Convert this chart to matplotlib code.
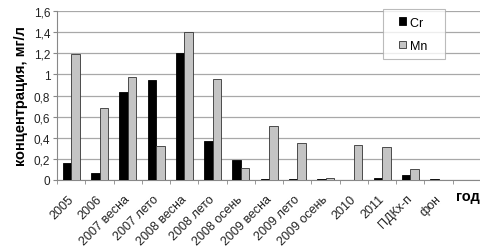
import matplotlib
matplotlib.use("Agg")
import matplotlib.pyplot as plt
import matplotlib.transforms as mtransforms
from matplotlib.patches import Rectangle
from matplotlib.legend_handler import HandlerPatch
import numpy as np

categories = ["2005", "2006", "2007 весна", "2007 лето", "2008 весна", "2008 лето",
              "2008 осень", "2009 весна", "2009 лето", "2009 осень", "2010", "2011",
              "ПДКх-п", "фон"]
cr = [0.16, 0.07, 0.83, 0.95, 1.20, 0.37, 0.19, 0.005, 0.01, 0.01, 0.0, 0.015, 0.05, 0.01]
mn = [1.19, 0.68, 0.98, 0.32, 1.40, 0.96, 0.11, 0.51, 0.35, 0.015, 0.33, 0.31, 0.10, 0.0]
yticks = [0, 0.2, 0.4, 0.6, 0.8, 1.0, 1.2, 1.4, 1.6]
ytick_labels = ["0", "0,2", "0,4", "0,6", "0,8", "1", "1,2", "1,4", "1,6"]

plt.rcParams['font.family'] = ['Liberation Sans', 'DejaVu Sans']

fig = plt.figure(figsize=(4.81, 2.51), dpi=100)
ax = fig.add_axes([0.119, 0.279, 0.881, 0.673])

cr_color, mn_color = "black", "#c4c4c4"
x = np.arange(len(categories))
w = 0.3
ax.bar(x - w/2, cr, w, color=cr_color, edgecolor="black", linewidth=0.6, zorder=3)
ax.bar(x + w/2, mn, w, color=mn_color, edgecolor="#333333", linewidth=0.6, zorder=3)

ax.set_xlim(-0.5, len(categories) + 0.5)
ax.set_ylim(0, 1.6)
ax.set_yticks(yticks)
ax.set_yticklabels(ytick_labels, fontsize=8.5, color="#222222")
ax.yaxis.grid(True, color="#a8a8a8", linewidth=0.9, zorder=0)
ax.set_axisbelow(True)

# category labels (rotated), placed at the category centres
ax.set_xticks(x)
ax.set_xticklabels([])
ax.tick_params(axis="x", which="major", length=0)
off = mtransforms.ScaledTranslation(-0.04, -0.125, fig.dpi_scale_trans)
for xi, cat in zip(x, categories):
    ax.text(xi, 0, cat, transform=ax.get_xaxis_transform() + off,
            rotation=45, rotation_mode="anchor", ha="right", va="top",
            fontsize=9, color="#222222")
ax.set_xticks(np.arange(-0.5, len(categories), 1.0), minor=True)
ax.tick_params(axis="x", which="minor", length=3, color="#888888")
ax.tick_params(axis="y", length=3, color="#888888", pad=2)

for s in ["top", "right"]:
    ax.spines[s].set_visible(False)
ax.spines["left"].set_color("#888888")
ax.spines["bottom"].set_color("#888888")

ax.set_ylabel("концентрация, мг/л", fontsize=10.5, fontweight="bold", labelpad=4)
fig.text(0.998, 0.215, "год", fontsize=10.5, fontweight="bold", ha="right", va="center")


def make_sq(legend, orig_handle, xdescent, ydescent, width, height, fontsize):
    s = 0.6 * fontsize
    return Rectangle((width - s - xdescent, (height - s) / 2 - ydescent), s, s)


handles = [Rectangle((0, 0), 1, 1, facecolor=cr_color, edgecolor="black", linewidth=0.6),
           Rectangle((0, 0), 1, 1, facecolor=mn_color, edgecolor="#333333", linewidth=0.6)]
leg = ax.legend(handles, ["Cr   ", "Mn   "], loc="upper left",
                bbox_to_anchor=(0.769, 1.012), fontsize=9,
                frameon=True, fancybox=False, edgecolor="#aaaaaa",
                handlelength=1.25, handleheight=0.7, labelspacing=0.9,
                borderpad=0.6, handletextpad=0.3, borderaxespad=0.0,
                handler_map={Rectangle: HandlerPatch(patch_func=make_sq)})
leg.get_frame().set_linewidth(0.8)

fig.savefig("out.png", dpi=100)
